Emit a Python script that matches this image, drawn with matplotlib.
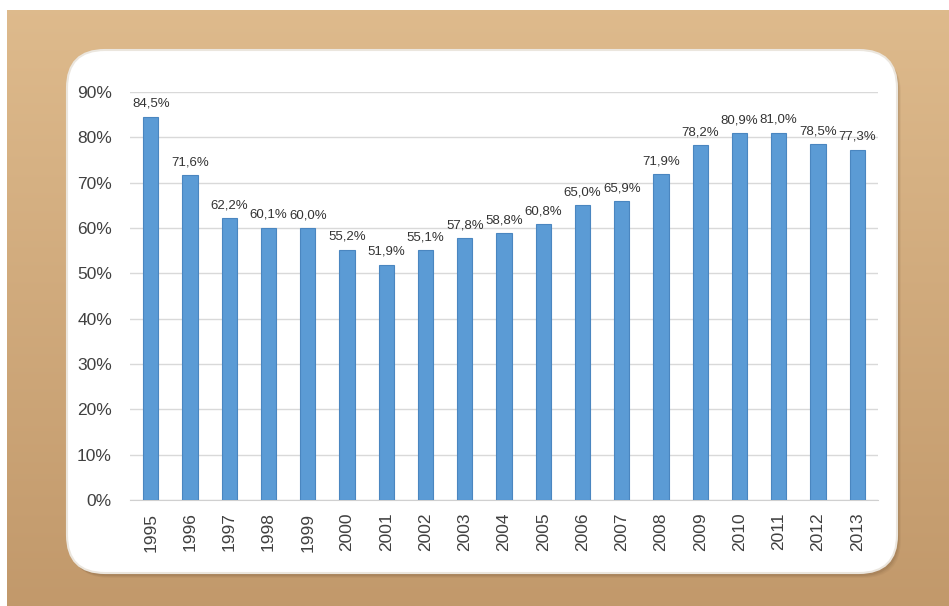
import matplotlib
matplotlib.use("Agg")
import matplotlib.pyplot as plt
import numpy as np
from matplotlib.patches import FancyBboxPatch
from matplotlib import font_manager

# Data
years = [str(y) for y in range(1995, 2014)]
values = [84.5, 71.6, 62.2, 60.1, 60.0, 55.2, 51.9, 55.1, 57.8, 58.8,
          60.8, 65.0, 65.9, 71.9, 78.2, 80.9, 81.0, 78.5, 77.3]
y_ticks = [0, 10, 20, 30, 40, 50, 60, 70, 80, 90]

installed = {f.name for f in font_manager.fontManager.ttflist}
family = "Liberation Sans Narrow" if "Liberation Sans Narrow" in installed else "Liberation Sans"
plt.rcParams["font.family"] = [family, "DejaVu Sans"]

W, H = 949, 606
fig = plt.figure(figsize=(W / 100, H / 100), dpi=100)
fig.patch.set_facecolor("white")

# Kraft-paper backdrop
bg = fig.add_axes([0, 0, 1, 1], zorder=0)
bg.set_xlim(0, W)
bg.set_ylim(H, 0)
bg.axis("off")
grad = np.linspace(0, 1, 256).reshape(-1, 1)
top_col = np.array([0.87, 0.73, 0.55])
bot_col = np.array([0.76, 0.60, 0.42])
img = top_col[None, None, :] * (1 - grad[..., None]) + bot_col[None, None, :] * grad[..., None]
bg.imshow(img, extent=[7, W, H, 10], aspect="auto", interpolation="bilinear", zorder=0)

# White rounded panel with soft shadow
rad = 38
px0, py0, px1, py1 = 67, 50, 897, 573
for i, a in enumerate([0.10, 0.08, 0.06]):
    bg.add_patch(FancyBboxPatch((px0 + rad + 2 + i, py0 + rad + 3 + i),
                                (px1 - px0) - 2 * rad, (py1 - py0) - 2 * rad,
                                boxstyle=f"round,pad={rad}",
                                facecolor=(0.35, 0.25, 0.15, a), edgecolor="none", zorder=1))
bg.add_patch(FancyBboxPatch((px0 + rad, py0 + rad), (px1 - px0) - 2 * rad, (py1 - py0) - 2 * rad,
                            boxstyle=f"round,pad={rad}", facecolor="white",
                            edgecolor="#ebe6de", linewidth=1.5, zorder=2))

# Chart
ax = fig.add_axes([130 / W, (H - 500) / H, (878 - 130) / W, (500 - 92) / H], zorder=3)
ax.patch.set_alpha(0)
x = np.arange(len(years))
ax.bar(x, values, width=0.39, color="#5b9bd5", edgecolor="#4a86c0", linewidth=0.8, zorder=3)
ax.set_xlim(-0.53, len(years) - 0.47)
ax.set_ylim(0, 90)
ax.set_yticks(y_ticks)
ax.set_yticklabels([f"{t}%" for t in y_ticks])
ax.set_xticks(x)
ax.set_xticklabels(years, rotation=90)
ax.grid(axis="y", color="#d9d9d9", linewidth=1.0, zorder=0)
ax.set_axisbelow(True)
for s in ["top", "right", "left"]:
    ax.spines[s].set_visible(False)
ax.spines["bottom"].set_color("#d0d0d0")
ax.tick_params(axis="both", length=0, labelcolor="#404040")
ax.tick_params(axis="y", pad=13, labelsize=12.5)
ax.tick_params(axis="x", pad=9, labelsize=12.5)

for xi, v in zip(x, values):
    ax.annotate(f"{v:.1f}%".replace(".", ","), (xi, v), xytext=(0, 5),
                textcoords="offset points", ha="center", va="bottom",
                fontsize=9.5, color="#333333")

fig.savefig("out.png", dpi=100)
